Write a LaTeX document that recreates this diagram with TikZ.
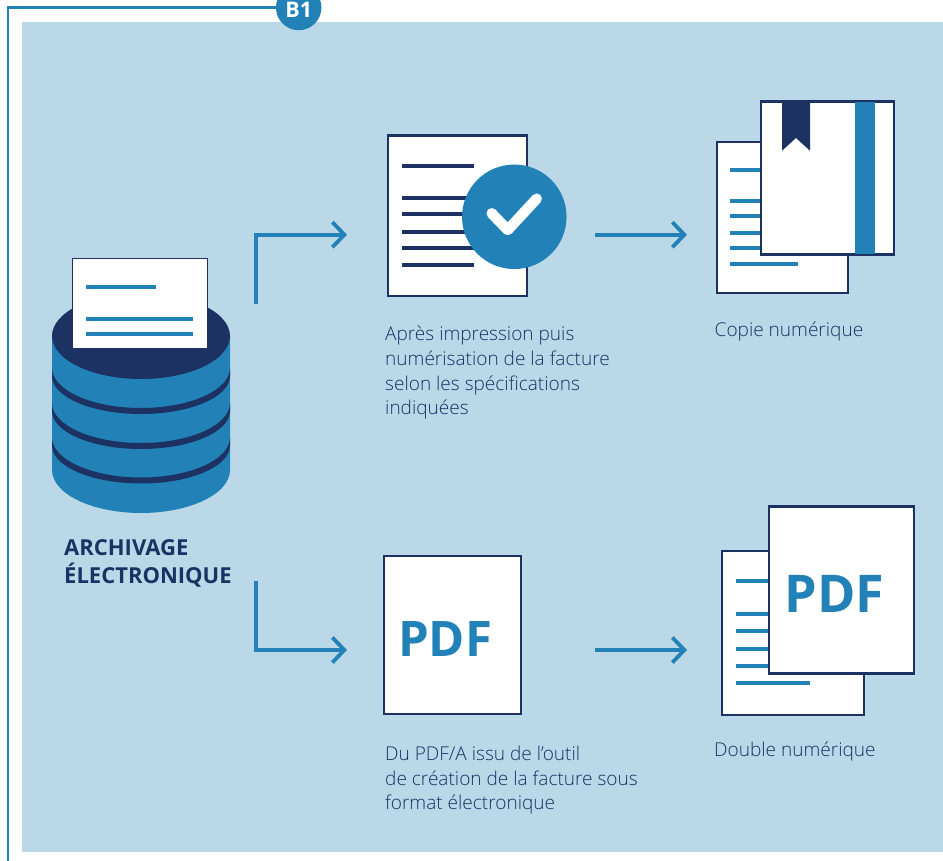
\documentclass[tikz,border=0pt]{standalone}
\usepackage{fontspec}
\setmainfont{Open Sans}
\newfontfamily\lightfont{Open Sans Light}
\usetikzlibrary{arrows.meta}
\definecolor{panelblue}{HTML}{BBD8E9}
\definecolor{midblue}{HTML}{2282B7}
\definecolor{navy}{HTML}{1B3263}
\definecolor{txtnavy}{HTML}{1B3263}
\tikzset{
  x=1pt,y=-1pt,
  sheet/.style={draw=navy,line width=2.3pt,fill=white},
  rulea/.style={draw=midblue,line width=4pt},
  ruleb/.style={draw=navy,line width=4pt},
  flow/.style={draw=midblue,line width=3.8pt,-{Straight Barb[length=12pt,width=25pt,line width=3.8pt]}},
  body/.style={anchor=north west,inner sep=0pt,align=left,text=txtnavy,font=\lightfont\fontsize{19.05}{24.9}\selectfont},
  pdf/.style={anchor=base west,inner sep=0pt,text=midblue,font=\bfseries},
}
\begin{document}
\begin{tikzpicture}
\useasboundingbox (0,0) rectangle (943,861);
\fill[white] (0,0) rectangle (943,861);
\fill[panelblue] (22,22) rectangle (943,852);
% frame and badge
\node[circle,fill=midblue,minimum size=45.5pt,inner sep=0pt] (badge) at (298.7,7.5) {};
\node[text=white,inner sep=0pt,font=\fontsize{21.5}{21.5}\selectfont\bfseries] (badgetext) at (298.7,9.5) {B1};
\coordinate (framestart) at (8,861);
\draw[midblue,line width=2.8pt] (framestart) |- (badge.west);
% cylinder
\fill[midblue] (52,336) -- (52,470) arc[start angle=180,end angle=0,x radius=89,y radius=43] -- (230,336) -- cycle;
\foreach \yy in {368,403,437.5}{
  \fill[navy] (52,\yy) arc[start angle=180,end angle=0,x radius=89,y radius=40]
     -- (230,\yy+8) arc[start angle=0,end angle=180,x radius=89,y radius=38] -- cycle;
}
\fill[navy] (141,336) ellipse[x radius=89,y radius=43];
\node[draw=navy,line width=1.3pt,fill=white,minimum width=135pt,minimum height=90pt,inner sep=0pt] (dbdoc) at (139.8,303.2) {};
\draw[rulea] (86,287) -- (156,287);
\draw[rulea] (86,319) -- (193,319);
\draw[rulea] (86,334) -- (193,334);
\node[anchor=north west,inner sep=0pt,align=left,text=navy,font=\fontsize{22}{28}\selectfont\bfseries] (archlabel) at (64,539) {ARCHIVAGE\\ÉLECTRONIQUE};
% scan doc
\node[sheet,minimum width=139pt,minimum height=160.5pt,inner sep=0pt] (scan) at (457.3,215.8) {};
\draw[ruleb] (402,166) -- (474,166);
\foreach \yy in {198,214,232,248}{\draw[ruleb] (402,\yy) -- (480,\yy);}
\draw[ruleb] (402,265) -- (474,265);
\node[circle,fill=midblue,minimum size=104.5pt,inner sep=0pt] (check) at (514.3,216.8) {};
\draw[white,line width=10.5pt,line cap=round,line join=round] (491.7,213.3) -- (507.7,230) -- (536.7,198.7);
% copy
\node[sheet,minimum width=131pt,minimum height=151pt,inner sep=0pt] (copyback) at (782.5,217.5) {};
\foreach \yy in {170,201,216,233,248}{\draw[rulea] (730,\yy) -- (770,\yy);}
\draw[rulea] (730,264) -- (798,264);
\node[sheet,minimum width=133pt,minimum height=153pt,inner sep=0pt] (copyfront) at (827.5,178) {};
\fill[midblue] (855,102) rectangle (875,254.5);
\fill[navy] (782,102) -- (810,102) -- (810,150.7) -- (796,138) -- (782,150.7) -- cycle;
% pdf
\node[sheet,minimum width=137pt,minimum height=158pt,inner sep=0pt] (pdfdoc) at (452.5,635) {};
\node[pdf,font=\fontsize{49}{49}\selectfont\bfseries] (pdflabel) at (398,656) {PDF};
% double
\node[sheet,minimum width=142pt,minimum height=164pt,inner sep=0pt] (dblback) at (793,633) {};
\foreach \yy in {581,614,631,649,666}{\draw[rulea] (736,\yy) -- (775,\yy);}
\draw[rulea] (736,683) -- (810,683);
\node[sheet,minimum width=145pt,minimum height=167pt,inner sep=0pt] (dblfront) at (841.5,590) {};
\node[pdf,font=\fontsize{52}{52}\selectfont\bfseries] (dbllabel) at (784.5,612.5) {PDF};
% connectors
\coordinate (a1s) at (255.7,304);
\coordinate (a1e) at (347,234.7);
\coordinate (a2s) at (595,234.7);
\coordinate (a2e) at (687,234.7);
\coordinate (a3s) at (255.7,581);
\coordinate (a3e) at (347,650);
\coordinate (a4s) at (595,650);
\coordinate (a4e) at (687,650);
\draw[flow] (a1s) |- (a1e);
\draw[flow] (a2s) -- (a2e);
\draw[flow] (a3s) |- (a3e);
\draw[flow] (a4s) -- (a4e);
% captions
\node[body] (t1) at (385,325.5) {Après impression puis\\numérisation de la facture\\selon les spécifications\\indiquées};
\node[body] (t2) at (714.5,322) {Copie numérique};
\node[body] (t3) at (385,745.5) {Du PDF/A issu de l’outil\\de création de la facture sous\\format électronique};
\node[body] (t4) at (714,742) {Double numérique};
\end{tikzpicture}
\end{document}
